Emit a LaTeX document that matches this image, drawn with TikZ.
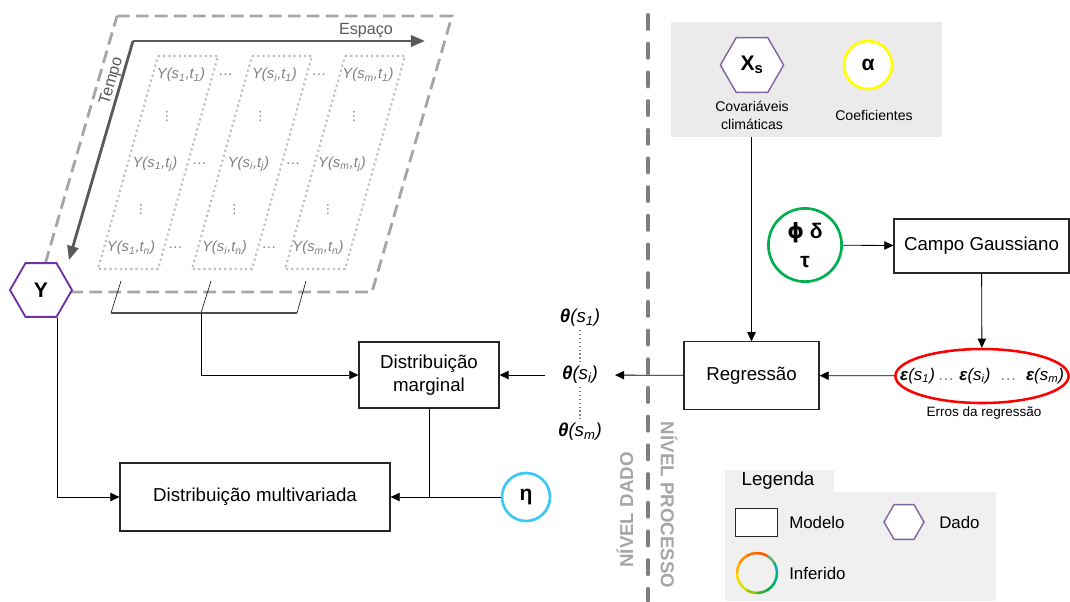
\documentclass[tikz,border=0pt]{standalone}
\usepackage{fontspec}
\setmainfont{Liberation Sans}
\newfontfamily\simbolo{DejaVu Sans}
\usetikzlibrary{shapes.geometric, arrows.meta, positioning, calc}

\definecolor{roxo}{HTML}{7030A0}
\definecolor{roxoclaro}{HTML}{8064A2}
\definecolor{verde}{HTML}{00B050}
\definecolor{azul}{HTML}{3CC8F4}
\definecolor{amarelo}{HTML}{FFFF00}
\definecolor{cinzafundo}{HTML}{EBEBEB}
\definecolor{cinzaleg}{HTML}{F0F0F0}
\definecolor{cinzatraco}{HTML}{A6A6A6}
\definecolor{cinzaescuro}{HTML}{595959}
\definecolor{cinzatexto}{HTML}{7F7F7F}

\begin{document}
\begin{tikzpicture}[
  x=0.025cm, y=-0.025cm,
  every node/.style={font=\fontsize{13.3}{16}\selectfont},
  modelo/.style={
    rectangle, draw=black!85, line width=0.8pt, fill=white,
    align=center, inner sep=2pt
  },
  dado/.style={
    regular polygon, regular polygon sides=6, draw=roxo, line width=1.3pt,
    fill=white, inner sep=0pt, font=\fontsize{15}{18}\selectfont\bfseries
  },
  inferido/.style={
    circle, line width=1.9pt, fill=white, inner sep=0pt, align=center,
    font=\fontsize{15}{21}\selectfont\bfseries
  },
  celula/.style={text=cinzatexto, inner sep=1pt, font=\fontsize{10.5}{12}\selectfont\itshape},
  rotulo/.style={text=cinzaescuro, inner sep=1pt, font=\fontsize{11.5}{13}\selectfont},
  nota/.style={inner sep=1pt, align=center, font=\fontsize{10}{12.8}\selectfont},
  theta/.style={inner sep=2pt, font=\fontsize{13.3}{16}\selectfont},
  nivel/.style={text=cinzatraco, inner sep=0pt, font=\fontsize{13.3}{16}\selectfont\bfseries},
  item/.style={anchor=west, inner sep=0pt, font=\fontsize{12}{14}\selectfont},
  moldura/.style={draw=cinzatraco, line width=2pt, dash pattern=on 9pt off 4.5pt},
  coluna/.style={draw=black!25, line width=1.5pt, dash pattern=on 1.5pt off 2.2pt},
  divisor/.style={draw=cinzatexto, line width=2.8pt, dash pattern=on 10pt off 10.4pt, line cap=round},
  pontilhado/.style={draw=gray, line width=0.8pt, dash pattern=on 0.8pt off 2pt},
  eixo/.style={-{Triangle[length=10pt, width=8pt]}, draw=cinzaescuro, line width=2pt},
  arrow/.style={-{Triangle[length=6.5pt, width=6pt]}, line width=0.6pt}
]
\useasboundingbox (0,0) rectangle (1070,601);

% nivel dado
\draw[moldura] (117,16) -- (452,16) -- (372,292) -- (37,292) -- cycle;
\foreach \c in {158,252,345}
  \draw[coluna] (\c,56) -- ++(60,0) -- ++(-60,213) -- ++(-60,0) -- cycle;

\foreach \t/\yy/\xx in {1/75/181, j/164/155, n/248/131}{
  \foreach \k/\s in {0/1, 1/i, 2/m}
    \node[celula] (y\s\t) at (\xx+93.5*\k,\yy) {Y(s\textsubscript{\s},t\textsubscript{\t})};
  \foreach \k in {0,1}
    \node[celula] (p\t\k) at (\xx+45+93.5*\k,\yy) {\ldots};
}
\foreach \yy/\xx in {117/167, 210/141}
  \foreach \k in {0,1,2}
    \node[celula, inner sep=0pt, font=\fontsize{9}{10}\selectfont\simbolo] (v\yy\k) at (\xx+93.5*\k,\yy) {⋮};

\coordinate (origem) at (133,41);
\coordinate (fimespaco) at (425,41);
\coordinate (fimtempo) at (69,260);
\draw[eixo] (origem) -- (fimespaco);
\draw[eixo] (origem) -- (fimtempo);
\node[rotulo] (espaco) at (366,31) {Espaço};
\node[rotulo, rotate=73.8] (tempo) at (112,81) {Tempo};

\node[dado, minimum size=1.55cm] (y) at (41,290) {Y};

\draw (121,281) -- (111,313);
\draw (211,281) -- (201,313);
\draw (306,281) -- (297,313);
\draw[draw=black!70, line width=1.2pt] (111,313) -- (297,313);
\coordinate (colchete) at (201,313);

\node[modelo, minimum width=3.5cm, minimum height=1.65cm] (marg) at (429,375) {Distribuição\\marginal};
\node[modelo, minimum width=6.75cm, minimum height=1.7cm] (multi) at (255,497) {Distribuição multivariada};
\node[inferido, draw=azul, minimum size=1.2cm] (eta) at (526,497) {η};

\node[theta] (th1) at (580,318) {\textbf{\textit{θ}}\textit{(s\textsubscript{1})}};
\node[theta] (thi) at (580,375) {\textbf{\textit{θ}}\textit{(s\textsubscript{i})}};
\node[theta] (thm) at (580,432) {\textbf{\textit{θ}}\textit{(s\textsubscript{m})}};
\draw[pontilhado] (th1) -- (thi);
\draw[pontilhado] (thi) -- (thm);

\draw[arrow] (colchete) |- (marg);
\draw[arrow] (y.300) |- (multi);
\draw[arrow] (marg) |- (multi);
\draw (eta) -- (marg.south |- eta);
\draw[arrow, shorten <=10pt] (thi) -- (marg);

% divisao
\draw[divisor] (648,15) -- (648,601);
\node[nivel, rotate=90] (ndado) at (625,510) {NÍVEL DADO};
\node[nivel, rotate=-90] (nproc) at (669,505) {NÍVEL PROCESSO};

% nivel processo
\node[fill=cinzafundo, minimum width=6.78cm, minimum height=2.88cm, inner sep=0pt] (clima) at (806.5,79.5) {};
\node[dado, draw=roxoclaro, line width=1pt, minimum size=1.58cm] (xs) at (752,65) {X\textsubscript{s}};
\node[nota] (xslbl) at (752,115) {Covariáveis\\climáticas};
\node[inferido, draw=amarelo, minimum size=1.2cm] (alfa) at (868,65) {α};
\node[nota] (alfalbl) at (874,115) {Coeficientes};

\node[inferido, draw=verde, minimum size=1.83cm] (phi) at (805,245) {{\simbolo\bfseries ϕ} δ\\τ};
\node[modelo, minimum width=4.375cm, minimum height=1.35cm] (campo) at (981.5,246) {Campo Gaussiano};
\node[modelo, minimum width=3.375cm, minimum height=1.68cm] (reg) at (751.5,375.5) {Regressão};

\node[ellipse, draw=red, line width=1.8pt, minimum width=4.33cm, minimum height=1.35cm, inner sep=0pt] (erros) at (982,376) {};
\node[inner sep=0pt, font=\fontsize{12}{14}\selectfont] (errostxt) at (982,376)
  {\textbf{\textit{ε}}\textit{(s\textsubscript{1})}\,{\color{gray}\ldots}\ \textbf{\textit{ε}}\textit{(s\textsubscript{i})}\ \ {\color{gray}\ldots}\ \ \textbf{\textit{ε}}\textit{(s\textsubscript{m})}};
\node[nota, font=\fontsize{9.6}{11}\selectfont] (erroslbl) at (984,413) {Erros da regressão};

\draw[arrow] (clima.south -| reg) -- (reg);
\draw[arrow] (phi) -- (campo);
\draw[arrow] (campo) -- (erros);
\draw[arrow] (erros) -- (reg);
\draw[arrow, shorten >=10pt] (reg) -- (thi);

% legenda
\fill[cinzaleg] (725,470) -- (834,470) -- (834,492) -- (996,492) -- (996,601) -- (725,601) -- cycle;
\node (legenda) at (778,481) {Legenda};
\node[modelo, minimum width=1.03cm, minimum height=0.68cm] (legmod) at (756.5,522.5) {};
\node[item] (legmodtxt) at (789,522) {Modelo};
\node[dado, draw=roxoclaro, line width=1pt, minimum size=1cm] (leghex) at (904,522) {};
\node[item] (leghextxt) at (939,522) {Dado};
\node[circle, minimum size=1.03cm, inner sep=0pt] (leginf) at (757,573) {};
\foreach \a/\cor in {0/00B0A0, 30/60B070, 60/FF5A00, 90/FF6A00, 120/FF8C00,
                     150/FFB000, 180/FFD700, 210/D8E000, 240/90C800, 270/30B040,
                     300/00B050, 330/00B080}{
  \definecolor{arco}{HTML}{\cor}
  \draw[line width=1.8pt, arco] ($(leginf.center)+(\a:0.5cm)$) arc[start angle=\a, delta angle=31, radius=0.5cm];
}
\node[item] (leginftxt) at (789,573) {Inferido};

\end{tikzpicture}
\end{document}
